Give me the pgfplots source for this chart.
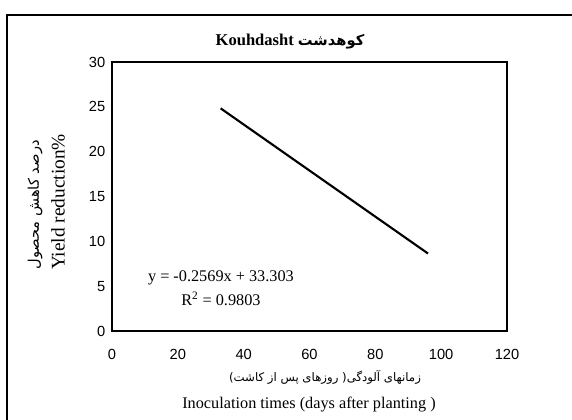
\documentclass[border=0pt]{standalone}
\usepackage{fontspec}
\usepackage{pgfplots}
\pgfplotsset{compat=1.18}
\setmainfont{Liberation Serif}
\newfontfamily\arial{Liberation Sans}
\newfontfamily\fa[Script=Arabic]{DejaVu Sans}
\TeXXeTstate=1
\begin{document}
\begin{tikzpicture}[x=0.75pt,y=0.75pt]
\useasboundingbox (-112,-89) rectangle (460,331);
\draw[line width=1pt] (-105,-89) -- (-105,316) -- (460,316);
\begin{axis}[
  at={(0,0)}, anchor=south west,
  scale only axis, width=296.25pt, height=201.75pt,
  xmin=0, xmax=120, ymin=0, ymax=30,
  xtick={0,20,...,120}, ytick={0,5,...,30},
  major tick length=0pt,
  axis line style={line width=0.9pt},
  /pgf/number format/assume math mode=true,
  ticklabel style={font=\arial\fontsize{11}{13}\selectfont},
  xticklabel style={yshift=-10pt},
  yticklabel style={xshift=-1.5pt},
  clip=false,
]
\addplot[black, line width=1.6pt] coordinates {(33,24.83) (96,8.64)};
\node[font=\fontsize{12.2}{18}\selectfont, align=center] at (axis cs:33.1,4.8)
  {y = -0.2569x + 33.303\\R\textsuperscript{2} = 0.9803};
\end{axis}
\node[font=\bfseries\fontsize{12.4}{14}\selectfont] at (178,289)
  {Kouhdasht {\fa\mdseries\bfseries\fontsize{11}{13}\selectfont\beginR کوهدشت\endR}};
\node[font=\fontsize{8.8}{11}\selectfont] at (213,-46)
  {{\fa\beginR زمانهای آلودگی( روزهای پس از کاشت)\endR}};
\node[font=\fontsize{12.2}{14}\selectfont] at (197,-74)
  {Inoculation times (days after planting )};
\node[rotate=90, font=\fontsize{11}{13}\selectfont] at (-77,126)
  {{\fa\beginR درصد کاهش محصول\endR}};
\node[rotate=90, font=\fontsize{14.5}{16}\selectfont] at (-54,129)
  {Yield reduction\%};
\end{tikzpicture}
\end{document}
